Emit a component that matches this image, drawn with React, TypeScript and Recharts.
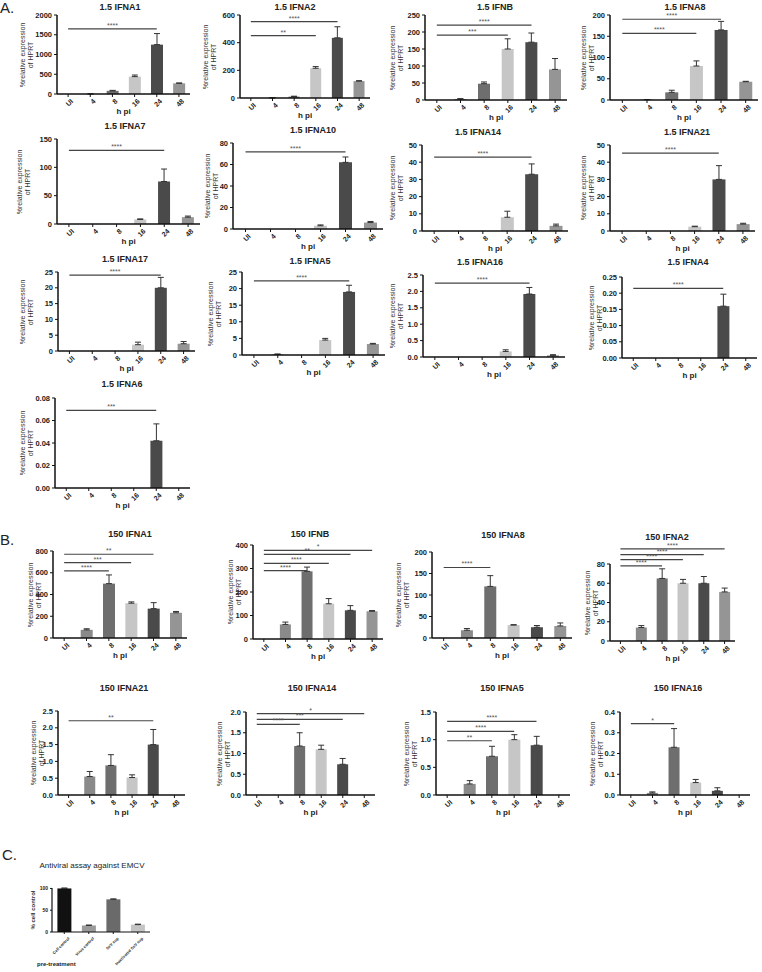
import React from "react";
import { BarChart, Bar, XAxis, YAxis, Cell, ErrorBar, ReferenceLine } from "recharts";

// time points (h post infection)
const hpi = ["UI", "4", "8", "16", "24", "48"];

// ---- A. MOI 1.5 ----
const a1Vals = [0, 2, 80, 440, 1250, 270];
const a1Errs = [0, 0, 12, 40, 280, 10];
const a2Vals = [0, 1, 10, 215, 435, 122];
const a2Errs = [0, 0, 3, 12, 80, 3];
const abVals = [0, 3, 48, 150, 170, 90];
const abErrs = [0, 1, 5, 30, 27, 32];
const a8Vals = [0, 1, 18, 80, 165, 43];
const a8Errs = [0, 0, 5, 12, 20, 1];
const a7Vals = [0, 0, 0, 8, 75, 12];
const a7Errs = [0, 0, 0, 1, 22, 2];
const a10Vals = [0, 0, 0, 3, 62, 6];
const a10Errs = [0, 0, 0, 0.8, 5, 1];
const a14Vals = [0, 0, 0, 8, 33, 3];
const a14Errs = [0, 0, 0, 3.5, 6, 1];
const a21Vals = [0, 0, 0, 2.5, 30, 4];
const a21Errs = [0, 0, 0, 0.3, 8, 0.5];
const a17Vals = [0, 0, 0, 2, 20, 2.3];
const a17Errs = [0, 0, 0, 0.8, 3.3, 0.7];
const a5Vals = [0, 0.2, 0, 4.5, 19, 3.3];
const a5Errs = [0, 0.1, 0, 0.5, 2, 0.2];
const a16Vals = [0, 0, 0, 0.17, 1.92, 0.05];
const a16Errs = [0, 0, 0, 0.05, 0.2, 0.02];
const a4Vals = [0, 0, 0, 0, 0.16, 0];
const a4Errs = [0, 0, 0, 0, 0.037, 0];
const a6Vals = [0, 0, 0, 0, 0.042, 0];
const a6Errs = [0, 0, 0, 0, 0.015, 0];

// ---- B. MOI 150 ----
const b1Vals = [0, 75, 500, 320, 270, 232];
const b1Errs = [0, 10, 80, 12, 55, 12];
const bbVals = [0, 62, 288, 150, 122, 118];
const bbErrs = [0, 10, 18, 22, 20, 3];
const b8Vals = [0, 18, 120, 30, 25, 28];
const b8Errs = [0, 4, 25, 1, 4, 7];
const b2Vals = [0, 14, 65, 60, 60, 51];
const b2Errs = [0, 2, 10, 4, 7, 4];
const b21Vals = [0, 0.55, 0.88, 0.52, 1.5, 0];
const b21Errs = [0, 0.15, 0.32, 0.08, 0.45, 0];
const b14Vals = [0, 0, 1.18, 1.1, 0.74, 0];
const b14Errs = [0, 0, 0.32, 0.1, 0.14, 0];
const b5Vals = [0, 0.2, 0.7, 1.0, 0.9, 0];
const b5Errs = [0, 0.06, 0.18, 0.09, 0.16, 0];
const b16Vals = [0, 0.01, 0.23, 0.06, 0.02, 0];
const b16Errs = [0, 0.005, 0.09, 0.015, 0.015, 0];

// significance bars: [end category, y, stars]
type Sig = [string, number, string];
const a1Sig: Sig[] = [["24", 1650, "****"]];
const a2Sig: Sig[] = [["24", 552, "****"], ["16", 451, "**"]];
const abSig: Sig[] = [["24", 220, "****"], ["16", 191, "***"]];
const a8Sig: Sig[] = [["24", 190, "****"], ["16", 157, "****"]];
const a7Sig: Sig[] = [["24", 130, "****"]];
const a10Sig: Sig[] = [["24", 71.7, "****"]];
const a14Sig: Sig[] = [["24", 43, "****"]];
const a21Sig: Sig[] = [["24", 45.3, "****"]];
const a17Sig: Sig[] = [["24", 24, "****"]];
const a5Sig: Sig[] = [["24", 22.3, "****"]];
const a16Sig: Sig[] = [["24", 2.25, "****"]];
const a4Sig: Sig[] = [["24", 0.215, "****"]];
const a6Sig: Sig[] = [["24", 0.069, "***"]];
const b1Sig: Sig[] = [["24", 770, "**"], ["16", 694, "***"], ["8", 618, "****"]];
const bbSig: Sig[] = [["48", 377, "*"], ["24", 360, "**"], ["16", 322, "****"], ["8", 291, "****"]];
const b8Sig: Sig[] = [["8", 164, "****"]];
const b2Sig: Sig[] = [["48", 95.7, "****"], ["24", 89.8, "****"], ["16", 84.5, "****"], ["8", 78, "****"]];
const b21Sig: Sig[] = [["24", 2.21, "**"]];
const b14Sig: Sig[] = [["48", 1.96, "*"], ["24", 1.82, "***"], ["8", 1.7, "****"]];
const b5Sig: Sig[] = [["24", 1.33, "****"], ["16", 1.15, "****"], ["8", 0.98, "**"]];
const b16Sig: Sig[] = [["8", 0.344, "*"]];

// ---- C. antiviral assay ----
const cCats = ["Cell control", "Virus control", "SeV sup", "Inactivated SeV sup"];
const cVals = [100, 15, 75, 17];
const cErrs = [1, 1, 1, 1];
const cTicks = [0, 50, 100];

const barColors = ["#8a8a8a", "#8a8a8a", "#6e6e6e", "#c6c6c6", "#4a4a4a", "#959595"];
const cColors = ["#111111", "#9a9a9a", "#6a6a6a", "#c4c4c4"];

const FONT = "'Liberation Sans', Arial, sans-serif";
const W = 34;
const MT = 30;
const MR = 6;
const XH = 22;

type PanelSpec = {
  title: string;
  x0: number;
  right: number;
  top: number;
  bottom: number;
  titleX: number;
  titleY: number;
  labX: number;
  max: number;
  step: number;
  dec: number;
  vals: number[];
  errs: number[];
  sigs: Sig[];
};

function SlantTick({ x, y, payload, size = 7 }: any) {
  return (
    <g transform={`translate(${x},${y})`}>
      <text
        x={2}
        y={0}
        dy={6}
        textAnchor="end"
        transform="rotate(-45)"
        fontSize={size}
        fontWeight="bold"
        fill="#222"
        fontFamily={FONT}
      >
        {payload.value}
      </text>
    </g>
  );
}

function makeTicks(max: number, step: number) {
  const out: number[] = [];
  for (let v = 0; v <= max + step / 1000; v += step) out.push(+v.toFixed(4));
  return out;
}

function Panel({ p }: { p: PanelSpec }) {
  const data = hpi.map((c, i) => ({ c, v: p.vals[i], err: [0, p.errs[i]] }));
  const pw = p.right - p.x0;
  const ph = p.bottom - p.top;
  return (
    <>
      <div
        style={{
          position: "absolute",
          left: p.titleX,
          top: p.titleY - 6,
          transform: "translateX(-50%)",
          fontFamily: FONT,
          fontWeight: "bold",
          fontSize: 9,
          whiteSpace: "nowrap",
          color: "#222",
        }}
      >
        {p.title}
      </div>
      <div
        style={{
          position: "absolute",
          left: p.labX,
          top: (p.top + p.bottom) / 2,
          transform: "translate(-50%,-50%) rotate(-90deg)",
          fontFamily: FONT,
          fontSize: 7,
          lineHeight: "8px",
          textAlign: "center",
          whiteSpace: "nowrap",
          color: "#333",
        }}
      >
        %relative expression
        <br />
        of HPRT
      </div>
      <div
        style={{
          position: "absolute",
          left: (p.x0 + p.right) / 2,
          top: p.bottom + 13,
          transform: "translateX(-50%)",
          fontFamily: FONT,
          fontWeight: "bold",
          fontSize: 8,
          color: "#222",
        }}
      >
        h pi
      </div>
      <div style={{ position: "absolute", left: p.x0 - W, top: p.top - MT }}>
        <BarChart
          width={W + pw + MR}
          height={MT + ph + XH}
          data={data}
          margin={{ top: MT, right: MR, left: 0, bottom: 0 }}
          barCategoryGap="24%"
        >
          <XAxis
            dataKey="c"
            height={XH}
            interval={0}
            tick={<SlantTick />}
            tickSize={3}
            axisLine={{ stroke: "#111", strokeWidth: 1.5 }}
            tickLine={{ stroke: "#111" }}
          />
          <YAxis
            width={W}
            domain={[0, p.max]}
            ticks={makeTicks(p.max, p.step)}
            tickFormatter={(v: number) => v.toFixed(p.dec)}
            tickSize={3}
            interval={0}
            axisLine={{ stroke: "#111", strokeWidth: 1.5 }}
            tickLine={{ stroke: "#111" }}
            tick={{ fontSize: 7.5, fontWeight: "bold", fill: "#222", fontFamily: FONT }}
          />
          <Bar dataKey="v" isAnimationActive={false}>
            {data.map((d, i) => (
              <Cell key={d.c} fill={barColors[i]} />
            ))}
            <ErrorBar dataKey="err" width={3} stroke="#333" strokeWidth={1} direction="y" />
          </Bar>
          {p.sigs.map((s, i) => (
            <ReferenceLine
              key={i}
              segment={[
                { x: "UI", y: s[1] },
                { x: s[0], y: s[1] },
              ]}
              stroke="#444"
              strokeWidth={1.2}
              ifOverflow="visible"
              label={{ value: s[2], position: "top", offset: 1, fontSize: 7, fill: "#555", fontFamily: FONT }}
            />
          ))}
        </BarChart>
      </div>
    </>
  );
}

const panels: PanelSpec[] = [
  { title: "1.5 IFNA1", x0: 57, right: 190, top: 15, bottom: 94, titleX: 120, titleY: 8, labX: 27, max: 2000, step: 500, dec: 0, vals: a1Vals, errs: a1Errs, sigs: a1Sig },
  { title: "1.5 IFNA2", x0: 240, right: 370, top: 15, bottom: 98, titleX: 295, titleY: 8, labX: 210, max: 600, step: 200, dec: 0, vals: a2Vals, errs: a2Errs, sigs: a2Sig },
  { title: "1.5 IFNB", x0: 425, right: 567, top: 15, bottom: 100, titleX: 495, titleY: 8, labX: 397, max: 250, step: 50, dec: 0, vals: abVals, errs: abErrs, sigs: abSig },
  { title: "1.5 IFNA8", x0: 610, right: 758, top: 15, bottom: 100, titleX: 685, titleY: 8, labX: 588, max: 200, step: 50, dec: 0, vals: a8Vals, errs: a8Errs, sigs: a8Sig },
  { title: "1.5 IFNA7", x0: 57, right: 200, top: 139, bottom: 224, titleX: 125, titleY: 127, labX: 24, max: 150, step: 50, dec: 0, vals: a7Vals, errs: a7Errs, sigs: a7Sig },
  { title: "1.5 IFNA10", x0: 233, right: 383, top: 143, bottom: 229, titleX: 313, titleY: 131, labX: 212, max: 80, step: 20, dec: 0, vals: a10Vals, errs: a10Errs, sigs: a10Sig },
  { title: "1.5 IFNA14", x0: 422, right: 568, top: 145, bottom: 231, titleX: 478, titleY: 133, labX: 397, max: 50, step: 10, dec: 0, vals: a14Vals, errs: a14Errs, sigs: a14Sig },
  { title: "1.5 IFNA21", x0: 610, right: 755, top: 145, bottom: 231, titleX: 687, titleY: 133, labX: 588, max: 50, step: 10, dec: 0, vals: a21Vals, errs: a21Errs, sigs: a21Sig },
  { title: "1.5 IFNA17", x0: 58, right: 195, top: 272, bottom: 351, titleX: 125, titleY: 260, labX: 27, max: 25, step: 5, dec: 0, vals: a17Vals, errs: a17Errs, sigs: a17Sig },
  { title: "1.5 IFNA5", x0: 242, right: 385, top: 272, bottom: 355, titleX: 310, titleY: 262, labX: 215, max: 25, step: 5, dec: 0, vals: a5Vals, errs: a5Errs, sigs: a5Sig },
  { title: "1.5 IFNA16", x0: 423, right: 565, top: 275, bottom: 357, titleX: 480, titleY: 263, labX: 397, max: 2.5, step: 0.5, dec: 1, vals: a16Vals, errs: a16Errs, sigs: a16Sig },
  { title: "1.5 IFNA4", x0: 622, right: 757, top: 277, bottom: 358, titleX: 688, titleY: 263, labX: 596, max: 0.25, step: 0.05, dec: 2, vals: a4Vals, errs: a4Errs, sigs: a4Sig },
  { title: "1.5 IFNA6", x0: 55, right: 190, top: 398, bottom: 488, titleX: 122, titleY: 385, labX: 27, max: 0.08, step: 0.02, dec: 2, vals: a6Vals, errs: a6Errs, sigs: a6Sig },
  { title: "150 IFNA1", x0: 53, right: 187, top: 551, bottom: 638, titleX: 130, titleY: 535, labX: 35, max: 800, step: 200, dec: 0, vals: b1Vals, errs: b1Errs, sigs: b1Sig },
  { title: "150 IFNB", x0: 253, right: 383, top: 545, bottom: 639, titleX: 310, titleY: 535, labX: 235, max: 400, step: 100, dec: 0, vals: bbVals, errs: bbErrs, sigs: bbSig },
  { title: "150 IFNA8", x0: 432, right: 572, top: 552, bottom: 638, titleX: 503, titleY: 536, labX: 403, max: 200, step: 50, dec: 0, vals: b8Vals, errs: b8Errs, sigs: b8Sig },
  { title: "150 IFNA2", x0: 610, right: 735, top: 564, bottom: 641, titleX: 667, titleY: 538, labX: 592, max: 80, step: 20, dec: 0, vals: b2Vals, errs: b2Errs, sigs: b2Sig },
  { title: "150 IFNA21", x0: 58, right: 185, top: 711, bottom: 795, titleX: 124, titleY: 689, labX: 38, max: 2.5, step: 0.5, dec: 1, vals: b21Vals, errs: b21Errs, sigs: b21Sig },
  { title: "150 IFNA14", x0: 246, right: 375, top: 712, bottom: 795, titleX: 312, titleY: 689, labX: 224, max: 2, step: 0.5, dec: 1, vals: b14Vals, errs: b14Errs, sigs: b14Sig },
  { title: "150 IFNA5", x0: 436, right: 570, top: 712, bottom: 795, titleX: 502, titleY: 689, labX: 411, max: 1.5, step: 0.5, dec: 1, vals: b5Vals, errs: b5Errs, sigs: b5Sig },
  { title: "150 IFNA16", x0: 620, right: 750, top: 712, bottom: 795, titleX: 678, titleY: 689, labX: 597, max: 0.4, step: 0.1, dec: 1, vals: b16Vals, errs: b16Errs, sigs: b16Sig },
];

function AntiviralPanel() {
  const data = cCats.map((c, i) => ({ c, v: cVals[i], err: [0, cErrs[i]] }));
  const x0 = 52;
  const right = 150;
  const top = 888;
  const bottom = 932;
  const yw = 40;
  const xh = 38;
  return (
    <>
      <div
        style={{
          position: "absolute",
          left: 92,
          top: 861,
          transform: "translateX(-50%)",
          fontFamily: FONT,
          fontSize: 8,
          color: "#222",
          whiteSpace: "nowrap",
        }}
      >
        Antiviral assay against EMCV
      </div>
      <div
        style={{
          position: "absolute",
          left: 33,
          top: (top + bottom) / 2,
          transform: "translate(-50%,-50%) rotate(-90deg)",
          fontFamily: FONT,
          fontSize: 6,
          fontWeight: "bold",
          whiteSpace: "nowrap",
          color: "#333",
        }}
      >
        % cell control
      </div>
      <div
        style={{
          position: "absolute",
          left: 37,
          top: 961,
          fontFamily: FONT,
          fontWeight: "bold",
          fontSize: 6,
          lineHeight: "7px",
          color: "#222",
        }}
      >
        pre-treatment
      </div>
      <div style={{ position: "absolute", left: x0 - yw, top: top - 10 }}>
        <BarChart
          width={yw + right - x0 + 4}
          height={10 + bottom - top + xh}
          data={data}
          margin={{ top: 10, right: 4, left: 0, bottom: 0 }}
          barCategoryGap="22%"
        >
          <XAxis
            dataKey="c"
            height={xh}
            interval={0}
            tick={<SlantTick size={4} />}
            tickSize={2}
            axisLine={{ stroke: "#111", strokeWidth: 1.2 }}
            tickLine={{ stroke: "#111" }}
          />
          <YAxis
            width={yw}
            domain={[0, 100]}
            ticks={cTicks}
            tickSize={2}
            axisLine={{ stroke: "#111", strokeWidth: 1.2 }}
            tickLine={{ stroke: "#111" }}
            tick={{ fontSize: 5, fontWeight: "bold", fill: "#222", fontFamily: FONT }}
          />
          <Bar dataKey="v" isAnimationActive={false}>
            {data.map((d, i) => (
              <Cell key={d.c} fill={cColors[i]} />
            ))}
            <ErrorBar dataKey="err" width={3} stroke="#333" strokeWidth={1} direction="y" />
          </Bar>
        </BarChart>
      </div>
    </>
  );
}

export default function App() {
  const letter = { position: "absolute" as const, fontFamily: FONT, fontSize: 15, lineHeight: "16px", color: "#222" };
  return (
    <div style={{ position: "absolute", left: 0, top: 0, width: 762, height: 972, background: "#fff", overflow: "hidden" }}>
      <div style={{ ...letter, left: 0, top: 0 }}>A.</div>
      <div style={{ ...letter, left: 0, top: 532 }}>B.</div>
      <div style={{ ...letter, left: 2, top: 847 }}>C.</div>
      {panels.map((p) => (
        <Panel key={p.title} p={p} />
      ))}
      <AntiviralPanel />
    </div>
  );
}
